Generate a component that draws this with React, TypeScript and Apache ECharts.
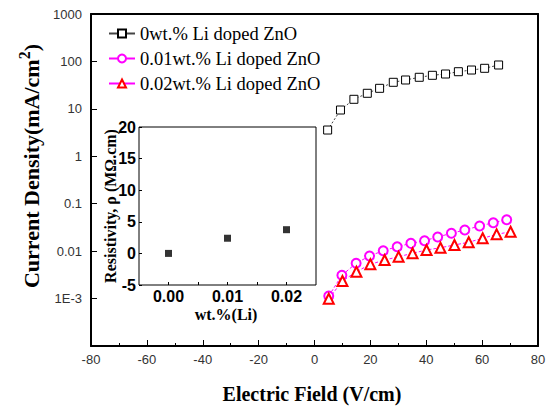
import React, { useEffect, useRef } from "react";
import * as echarts from "echarts";

const fieldUndoped = [4.7, 9.3, 14.1, 18.9, 23.3, 28.2, 32.6, 37.5, 42.2, 46.9, 51.5, 56.2, 60.9, 65.9];
const densityUndoped = [3.58, 9.46, 15.9, 21.3, 27.1, 36.3, 40.6, 46.3, 51.0, 54.3, 60.7, 65.9, 71.6, 84.1];

const fieldLi001 = [5.1, 9.8, 14.9, 19.7, 24.6, 29.6, 34.5, 39.4, 44.1, 49.0, 53.8, 59.1, 64.0, 68.8];
const densityLi001 = [0.00113, 0.0031, 0.00555, 0.0079, 0.0102, 0.0124, 0.0146, 0.0166, 0.0199, 0.0238, 0.0279, 0.0339, 0.0398, 0.046];

const fieldLi002 = [5.1, 10.0, 15.0, 20.0, 25.1, 30.1, 35.1, 40.1, 45.1, 50.1, 55.2, 60.2, 65.2, 70.2];
const densityLi002 = [0.00099, 0.00235, 0.00369, 0.00528, 0.0065, 0.00764, 0.00901, 0.0106, 0.0118, 0.0135, 0.0154, 0.0187, 0.0226, 0.0257];

const liContent = [0, 0.01, 0.02];
const resistivity = [0, 2.4, 3.75];

const seriesNames = ["0wt.% Li doped ZnO", "0.01wt.% Li doped ZnO", "0.02wt.% Li doped ZnO"];

const zip = (xs: number[], ys: number[]) => xs.map((x, i) => [x, ys[i]]);

export default function App() {
  const ref = useRef<HTMLDivElement>(null);
  useEffect(() => {
    if (!ref.current) return;
    const chart = echarts.init(ref.current, null, { renderer: "svg" });
    const sans = "Liberation Sans";
    const serif = "Liberation Serif";
    const frameLine = () => ({ show: true, onZero: false, lineStyle: { color: "#000", width: 2 } });
    chart.setOption({
      animation: false,
      grid: [
        { left: 91, top: 14, width: 447, height: 332, show: false, z: 6 },
        { left: 139, top: 127, width: 177, height: 158, show: true, borderColor: "#000", borderWidth: 1, backgroundColor: "#fff", z: 3 },
      ],
      legend: {
        orient: "vertical",
        left: 103,
        top: 19,
        itemWidth: 26,
        itemHeight: 10,
        itemGap: 6,
        data: [
          { name: seriesNames[0] },
          { name: seriesNames[1] },
          { name: seriesNames[2], lineStyle: { color: "#ff00ff" } },
        ],
        textStyle: { fontFamily: serif, fontSize: 18.5, color: "#000" },
        lineStyle: { type: "solid" },
      },
      xAxis: [
        {
          gridIndex: 0, type: "value", min: -80, max: 80, interval: 20, z: 6,
          axisLine: frameLine(),
          axisTick: { show: true, inside: true, length: 6, lineStyle: { color: "#000", width: 1 } },
          minorTick: { show: true, splitNumber: 2, length: 3, lineStyle: { color: "#000" } },
          splitLine: { show: false },
          axisLabel: { fontFamily: sans, fontSize: 13, color: "#333", margin: 7 },
        },
        {
          gridIndex: 1, type: "value", min: -0.005, max: 0.025, z: 6,
          axisLine: { show: false, onZero: false },
          axisTick: { show: true, inside: true, length: 3, customValues: [0, 0.005, 0.01, 0.015, 0.02], lineStyle: { color: "#000" } },
          splitLine: { show: false },
          axisLabel: {
            customValues: [0, 0.01, 0.02],
            fontFamily: sans, fontSize: 16, fontWeight: "bold", color: "#000", margin: 3,
            formatter: (v: number) => v.toFixed(2),
          },
        },
        {
          gridIndex: 0, type: "value", min: -80, max: 80, position: "top", z: 6,
          axisLine: frameLine(), axisTick: { show: false }, axisLabel: { show: false }, splitLine: { show: false },
        },
      ],
      yAxis: [
        {
          gridIndex: 0, type: "log", logBase: 10, min: 0.0001, max: 1000, z: 6,
          axisLine: frameLine(),
          axisTick: { show: true, inside: true, length: 6, lineStyle: { color: "#000" } },
          splitLine: { show: false },
          minorTick: { show: false },
          axisLabel: {
            fontFamily: sans, fontSize: 13, color: "#333", margin: 9,
            formatter: (v: number) => {
              const e = Math.round(Math.log10(v));
              if (e === -4) return "";
              if (e === -3) return "1E-3";
              if (e < 0) return v.toFixed(-e);
              return String(Math.round(v));
            },
          },
        },
        {
          gridIndex: 1, type: "value", min: -5, max: 20, interval: 5, z: 6,
          axisLine: { show: false, onZero: false },
          axisTick: { show: true, inside: true, length: 3, lineStyle: { color: "#000" } },
          splitLine: { show: false },
          axisLabel: { fontFamily: sans, fontSize: 16, fontWeight: "bold", color: "#000", margin: 3 },
        },
        {
          gridIndex: 0, type: "log", logBase: 10, min: 0.0001, max: 1000, position: "right", z: 6,
          axisLine: frameLine(), axisTick: { show: false }, axisLabel: { show: false }, splitLine: { show: false },
        },
      ],
      series: [
        {
          name: seriesNames[0], type: "line", xAxisIndex: 0, yAxisIndex: 0,
          data: zip(fieldUndoped, densityUndoped),
          symbol: "rect", symbolSize: 8,
          itemStyle: { color: "#fff", borderColor: "#000", borderWidth: 1 },
          lineStyle: { color: "#444", width: 1, type: [2, 2] },
          z: 4,
        },
        {
          name: seriesNames[1], type: "line", xAxisIndex: 0, yAxisIndex: 0,
          data: zip(fieldLi001, densityLi001),
          symbol: "emptyCircle", symbolSize: 9,
          itemStyle: { color: "#ff00ff", borderWidth: 1 },
          lineStyle: { color: "#ff00ff", width: 1, type: [3, 2] },
          z: 4,
        },
        {
          name: seriesNames[2], type: "line", xAxisIndex: 0, yAxisIndex: 0,
          data: zip(fieldLi002, densityLi002),
          symbol: "emptyTriangle", symbolSize: 10,
          itemStyle: { color: "#ff0000", borderWidth: 1 },
          lineStyle: { color: "#ff00ff", width: 1, type: [3, 2] },
          z: 4,
        },
        {
          name: "resistivity", type: "scatter", xAxisIndex: 1, yAxisIndex: 1,
          data: zip(liContent, resistivity),
          symbol: "rect", symbolSize: 7,
          itemStyle: { color: "#000" },
          z: 5,
        },
      ],
      graphic: [
        {
          type: "text", x: 42, y: 166, rotation: Math.PI / 2, z: 10,
          style: {
            text: "{a|Current Density(mA/cm}{s|2}{a|)}",
            rich: {
              a: { fontFamily: serif, fontWeight: "bold", fontSize: 22, fill: "#000", verticalAlign: "bottom" },
              s: { fontFamily: serif, fontWeight: "bold", fontSize: 16, fill: "#000", verticalAlign: "bottom", padding: [0, 0, 10, 0] },
            },
            align: "center", verticalAlign: "bottom",
          },
        },
        {
          type: "text", x: 312, y: 394, z: 10,
          style: {
            text: "Electric Field (V/cm)", fontFamily: serif, fontWeight: "bold", fontSize: 20,
            fill: "#000", align: "center", verticalAlign: "middle",
          },
        },
        {
          type: "text", x: 110, y: 206, rotation: Math.PI / 2, z: 10,
          style: {
            text: "Resistivity, ρ (MΩ.cm)", fontFamily: serif, fontWeight: "bold", fontSize: 16,
            fill: "#000", align: "center", verticalAlign: "middle",
          },
        },
        {
          type: "text", x: 226, y: 314, z: 10,
          style: {
            text: "wt.%(Li)", fontFamily: serif, fontWeight: "bold", fontSize: 16,
            fill: "#000", align: "center", verticalAlign: "middle",
          },
        },
      ],
    });
    return () => chart.dispose();
  }, []);
  return <div ref={ref} style={{ position: "fixed", left: 0, top: 0, width: 549, height: 407, background: "#fff" }} />;
}
